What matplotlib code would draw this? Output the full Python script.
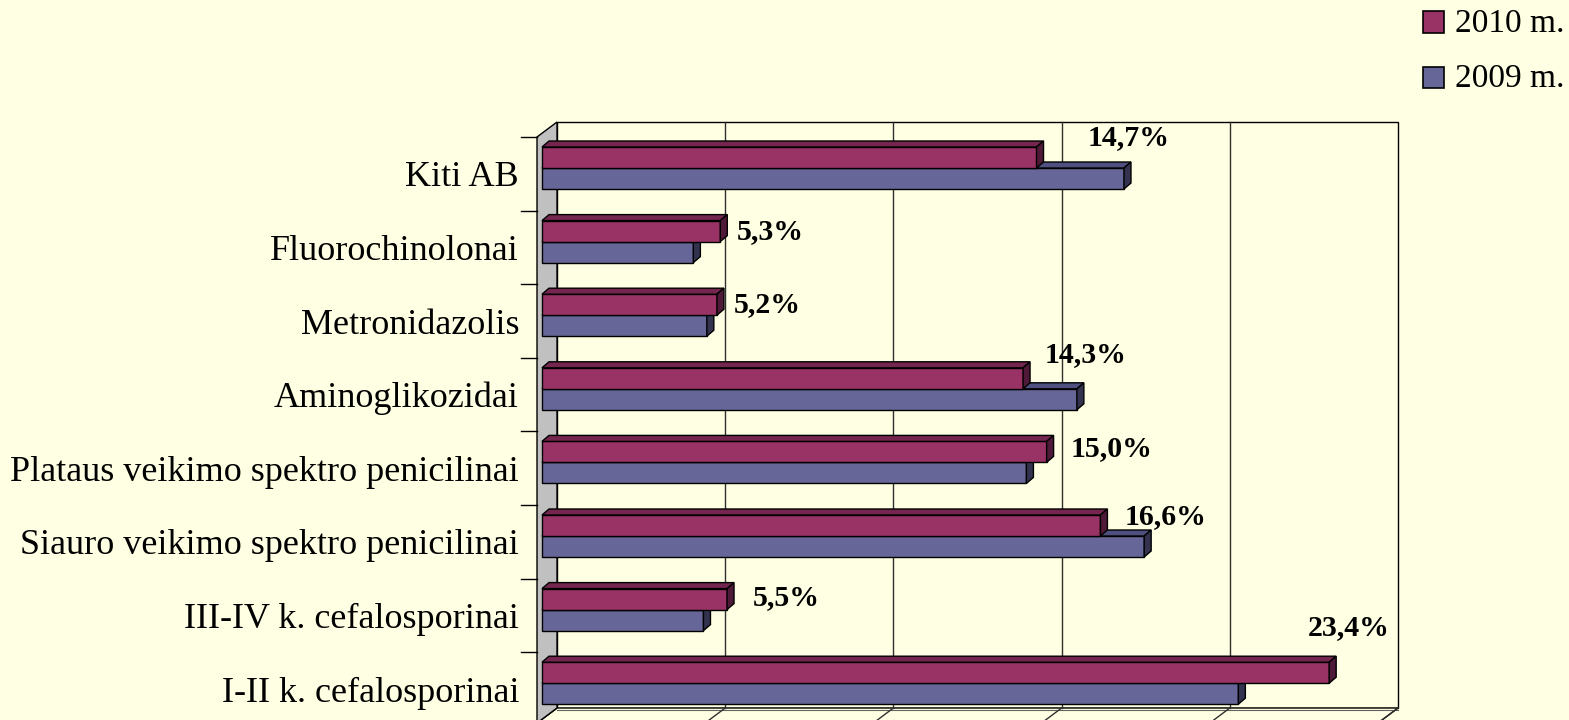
import matplotlib
matplotlib.use("Agg")
import matplotlib.pyplot as plt
from matplotlib.patches import Polygon, Rectangle

# ---------------- data ----------------
categories = ["I-II k. cefalosporinai", "III-IV k. cefalosporinai",
              "Siauro veikimo spektro penicilinai", "Plataus veikimo spektro penicilinai",
              "Aminoglikozidai", "Metronidazolis", "Fluorochinolonai", "Kiti AB"]
values_2010 = [23.4, 5.5, 16.6, 15.0, 14.3, 5.2, 5.3, 14.7]
values_2009 = [20.7, 4.8, 17.9, 14.4, 15.9, 4.9, 4.5, 17.3]
labels_2010 = ["23,4%", "5,5%", "16,6%", "15,0%", "14,3%", "5,2%", "5,3%", "14,7%"]
series_names = ["2010 m.", "2009 m."]

# ---------------- style / layout ----------------
BG = "#FFFFE3"
C2010, C2010_TOP, C2010_SIDE = "#993366", "#74264F", "#4F1A37"
C2009, C2009_TOP, C2009_SIDE = "#666699", "#505080", "#33334F"
FONT = "Liberation Serif"

PX_PER_X = 33.64     # pixels per percent
PX_PER_Y = 73.6      # pixels per category slot
X0_PX = 542          # pixel of value 0 (front)
Y0_PX = 689          # pixel (from top) of slot 0 centre

W, H = 1569, 720
fig = plt.figure(figsize=(W / 100, H / 100), dpi=100, facecolor=BG)
ax = fig.add_axes([0, 0, 1, 1])
ax.set_facecolor(BG)
ax.set_xlim(-X0_PX / PX_PER_X, (W - X0_PX) / PX_PER_X)
ax.set_ylim((Y0_PX - H) / PX_PER_Y, Y0_PX / PX_PER_Y)
ax.axis("off")

n = len(categories)
xmax = 25
# wall depth offsets (data units)
wdx, wdy = 20 / PX_PER_X, 15 / PX_PER_Y
front_x = -5 / PX_PER_X
back_x = front_x + wdx
top_front = n - 0.5
top_back = top_front + wdy
bot_back = (Y0_PX - 708) / PX_PER_Y
bot_front = bot_back - wdy

# back wall
ax.add_patch(Rectangle((back_x, bot_back), xmax, top_back - bot_back,
                       facecolor=BG, edgecolor="black", lw=1.0, zorder=1))
for k in range(1, 5):
    gx = back_x + 5 * k
    ax.plot([gx, gx], [bot_back, top_back], color="#303030", lw=1.0, zorder=1.5)
# floor
ax.add_patch(Polygon([(back_x, bot_back), (back_x + xmax, bot_back),
                      (front_x + xmax, bot_front), (front_x, bot_front)],
                     closed=True, facecolor=BG, edgecolor="black", lw=1.0, zorder=1.2))
ax.plot([back_x, back_x + xmax], [bot_back - 2 / PX_PER_Y] * 2, color="#606060", lw=0.8, zorder=1.3)
for k in range(0, 6):
    ax.plot([back_x + 5 * k, front_x + 5 * k], [bot_back, bot_front],
            color="#303030", lw=1.0, zorder=1.5)
# left side wall
ax.add_patch(Polygon([(front_x, top_front), (back_x, top_back),
                      (back_x, bot_back), (front_x, bot_front)],
                     closed=True, facecolor="#C0C0C0", edgecolor="black", lw=1.0, zorder=2))
# category ticks
for j in range(n + 1):
    yy = j - 0.5
    ax.plot([front_x - 16 / PX_PER_X, front_x], [yy, yy], color="black", lw=1.0, zorder=2)

# bars
h = 21 / PX_PER_Y
y2010 = 0.5 - 10 / PX_PER_Y - h     # bottom of 2010 bar relative to slot centre
y2009 = y2010 - h
bdx, bdy = 7 / PX_PER_X, 6 / PX_PER_Y


def bar3d(yc, vals, yoff, front, top, side, z):
    ys = [y + yoff + h / 2 for y in yc]
    ax.barh(ys, vals, height=h, left=0, color=front, edgecolor="black", lw=1.0, zorder=z)
    for y, v in zip(ys, vals):
        yb, yt = y - h / 2, y + h / 2
        ax.add_patch(Polygon([(0, yt), (bdx, yt + bdy), (v + bdx, yt + bdy), (v, yt)],
                             closed=True, facecolor=top, edgecolor="black", lw=1.0, zorder=z))
        ax.add_patch(Polygon([(v, yb), (v, yt), (v + bdx, yt + bdy), (v + bdx, yb + bdy)],
                             closed=True, facecolor=side, edgecolor="black", lw=1.0, zorder=z))


pos = list(range(n))
bar3d(pos, values_2009, y2009, C2009, C2009_TOP, C2009_SIDE, 3)
bar3d(pos, values_2010, y2010, C2010, C2010_TOP, C2010_SIDE, 4)

# category labels
for i, c in enumerate(categories):
    ax.text(-23 / PX_PER_X, i - 4 / PX_PER_Y, c, ha="right", va="center", fontsize=26,
            family=FONT, color="black", zorder=5)

# value labels (offsets in pixels from 2010 bar end / slot top)
label_offsets = [(20, -25), (59, 19), (65, 12), (65, 17), (63, -3), (50, 20), (50, 21), (92, 1)]
for i, (v, lab) in enumerate(zip(values_2010, labels_2010)):
    dxp, dyp = label_offsets[i]
    ax.annotate(lab, xy=(v, i + 0.5), xytext=(dxp, -dyp), textcoords="offset pixels",
                ha="center", va="center", fontsize=21.5, fontweight="bold",
                family=FONT, color="black", zorder=6)

# legend (manual, figure pixel coordinates)
leg_items = [(series_names[0], C2010, 22), (series_names[1], C2009, 77.5)]
for name, col, yc in leg_items:
    fig.patches.append(Rectangle((1423 / W, 1 - (yc + 10.5) / H), 21 / W, 21 / H,
                                 transform=fig.transFigure, facecolor=col,
                                 edgecolor="black", lw=1.2))
    fig.text(1455 / W, 1 - (yc + 1.5) / H, name, ha="left", va="center",
             fontsize=24, family=FONT, color="black")

fig.savefig("out.png", dpi=100, facecolor=BG)
